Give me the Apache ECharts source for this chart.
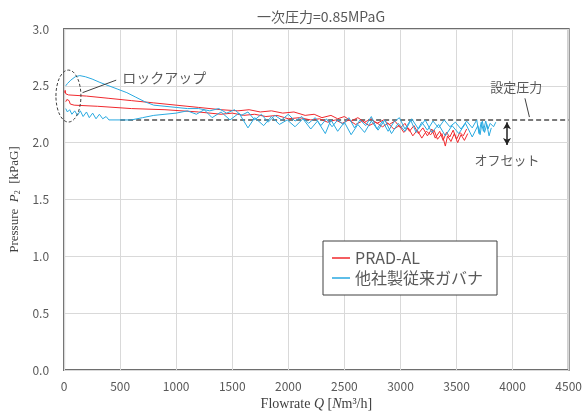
<!DOCTYPE html>
<html>
<head>
<meta charset="utf-8">
<script src="https://cdn.jsdelivr.net/npm/echarts@6/dist/echarts.min.js"></script>
<style>
  html, body { margin: 0; padding: 0; background: #fff; }
  #chart { width: 585px; height: 416px; }
</style>
</head>
<body>
<div id="chart"></div>
<script>
// Data: [flowrate Q, pressure P2]
const seriesNames = ['PRAD-AL', '他社製従来ガバナ'];
const xTicks = [0, 500, 1000, 1500, 2000, 2500, 3000, 3500, 4000, 4500];
const yTicks = [0, 0.5, 1.0, 1.5, 2.0, 2.5, 3.0];

const redUp = [
  [5, 2.44], [10, 2.46], [15, 2.43], [25, 2.44], [40, 2.42], [200, 2.41], [400, 2.39], [600, 2.37],
  [800, 2.35], [1000, 2.33], [1200, 2.31], [1400, 2.29], [1550, 2.28], [1650, 2.29], [1750, 2.27],
  [1850, 2.28], [1950, 2.26], [2050, 2.27], [2150, 2.24], [2230, 2.25], [2300, 2.22], [2380, 2.24],
  [2440, 2.21], [2500, 2.23], [2560, 2.19], [2620, 2.22], [2680, 2.18], [2740, 2.21], [2790, 2.17],
  [2850, 2.2], [2900, 2.16], [2950, 2.19], [3000, 2.13], [3040, 2.17], [3080, 2.1], [3120, 2.15],
  [3160, 2.08], [3200, 2.13], [3240, 2.06], [3280, 2.12], [3310, 2.04], [3350, 2.1], [3380, 2.02],
  [3410, 2.09], [3440, 2.05], [3470, 2.11], [3500, 2.03], [3530, 2.09], [3560, 2.06], [3590, 2.12]
];
const redDown = [
  [15, 2.36], [25, 2.38], [35, 2.39], [45, 2.37], [55, 2.34], [70, 2.35], [90, 2.33], [300, 2.32],
  [600, 2.3], [900, 2.29], [1200, 2.27], [1400, 2.25], [1500, 2.26], [1600, 2.24], [1700, 2.25],
  [1800, 2.23], [1900, 2.24], [2000, 2.21], [2100, 2.22], [2200, 2.2], [2280, 2.21], [2350, 2.18],
  [2420, 2.2], [2480, 2.17], [2540, 2.2], [2600, 2.16], [2660, 2.19], [2720, 2.15], [2780, 2.18],
  [2840, 2.14], [2890, 2.17], [2940, 2.12], [2990, 2.15], [3030, 2.09], [3070, 2.13], [3110, 2.06],
  [3150, 2.11], [3190, 2.04], [3230, 2.1], [3270, 2.07], [3300, 2.11], [3330, 2.03], [3370, 2.08],
  [3400, 1.97], [3420, 2.06], [3450, 2.01], [3480, 2.08], [3510, 2.0], [3540, 2.07], [3570, 2.02],
  [3600, 2.08]
];
const blueUp = [
  [15, 2.5], [30, 2.52], [60, 2.55], [100, 2.58], [140, 2.59], [190, 2.58], [250, 2.56], [320, 2.53],
  [400, 2.5], [480, 2.47], [560, 2.44], [640, 2.4], [720, 2.36], [800, 2.33], [900, 2.32], [1000, 2.31],
  [1100, 2.3], [1200, 2.3], [1300, 2.28], [1380, 2.3], [1450, 2.26], [1520, 2.29], [1580, 2.24],
  [1640, 2.27], [1700, 2.2], [1760, 2.25], [1820, 2.18], [1880, 2.24], [1940, 2.2], [2000, 2.25],
  [2060, 2.19], [2120, 2.23], [2180, 2.17], [2240, 2.22], [2290, 2.15], [2340, 2.21], [2390, 2.14],
  [2440, 2.2], [2490, 2.16], [2540, 2.22], [2590, 2.13], [2640, 2.2], [2690, 2.15], [2740, 2.23],
  [2790, 2.12], [2840, 2.19], [2890, 2.1], [2940, 2.18], [2990, 2.22], [3040, 2.12], [3090, 2.2],
  [3140, 2.09], [3190, 2.18], [3240, 2.11], [3290, 2.19], [3340, 2.13], [3390, 2.2], [3440, 2.14],
  [3490, 2.18], [3540, 2.12], [3590, 2.19], [3640, 2.13], [3680, 2.2], [3700, 2.08], [3720, 2.18],
  [3740, 2.1], [3760, 2.19], [3780, 2.12], [3800, 2.17], [3830, 2.14], [3850, 2.18]
];
const blueDown = [
  [15, 2.3], [30, 2.27], [50, 2.29], [70, 2.25], [95, 2.28], [120, 2.24], [145, 2.28], [170, 2.23],
  [200, 2.27], [225, 2.22], [255, 2.26], [285, 2.21], [315, 2.25], [345, 2.21], [375, 2.23], [400, 2.2],
  [500, 2.2], [600, 2.2], [700, 2.22], [800, 2.24], [900, 2.25], [1000, 2.26], [1100, 2.28], [1180, 2.25],
  [1250, 2.29], [1320, 2.22], [1400, 2.27], [1480, 2.2], [1560, 2.26], [1640, 2.13], [1700, 2.22],
  [1780, 2.15], [1850, 2.23], [1920, 2.16], [1990, 2.2], [2060, 2.14], [2130, 2.21], [2200, 2.12],
  [2260, 2.19], [2330, 2.08], [2380, 2.2], [2440, 2.1], [2500, 2.18], [2560, 2.07], [2620, 2.16],
  [2680, 2.09], [2740, 2.19], [2800, 2.11], [2860, 2.2], [2920, 2.08], [2980, 2.17], [3040, 2.1],
  [3100, 2.21], [3160, 2.12], [3220, 2.2], [3280, 2.09], [3340, 2.16], [3400, 2.06], [3460, 2.15],
  [3520, 2.08], [3580, 2.17], [3640, 2.05], [3690, 2.15], [3710, 2.07], [3730, 2.19], [3750, 2.09],
  [3770, 2.16], [3790, 2.06], [3810, 2.13]
];
// set pressure (dashed) and offset arrow
const setPressure = [[500, 2.2], [4500, 2.2]];
const offsetArrow = [[3950, 2.18], [3950, 1.98]];

const RED = '#f0282d';
const BLUE = '#29a9e0';
const TXT = '#595959';
const SANS = '"Noto Sans CJK JP", "Noto Sans", sans-serif';
const SERIF = '"Liberation Serif", "DejaVu Serif", serif';

const chart = echarts.init(document.getElementById('chart'), null, { renderer: 'canvas' });

function lineSeries(name, data, color) {
  return {
    name: name,
    type: 'line',
    data: data,
    symbol: 'none',
    smooth: false,
    lineStyle: { color: color, width: 1 },
    itemStyle: { color: color },
    z: 3
  };
}

chart.setOption({
  animation: false,
  title: {
    text: '一次圧力=0.85MPaG',
    left: 316,
    top: 5,
    textAlign: 'center',
    textStyle: { color: TXT, fontSize: 14, fontWeight: 'normal', fontFamily: SANS }
  },
  grid: {
    left: 59, right: 12, top: 29, bottom: 45,
    show: true, borderColor: '#6e6e6e', borderWidth: 2, backgroundColor: 'transparent'
  },
  legend: {
    data: seriesNames,
    orient: 'vertical',
    left: 323,
    top: 241,
    padding: [7, 14, 7, 9],
    itemGap: 0,
    icon: 'rect',
    itemWidth: 18,
    itemHeight: 1.5,
    itemTextGap: 10,
    backgroundColor: '#fff',
    borderColor: '#404040',
    borderWidth: 1,
    textStyle: { color: TXT, fontSize: 16, fontFamily: SANS, lineHeight: 20 }
  },
  xAxis: {
    type: 'value',
    min: xTicks[0],
    max: xTicks[xTicks.length - 1],
    interval: 500,
    axisLine: { show: false },
    axisTick: { show: false },
    axisLabel: { color: TXT, fontSize: 12, fontFamily: SANS, margin: 10, formatter: v => String(v) },
    splitLine: { show: true, lineStyle: { color: '#d9d9d9', width: 1 } },
    name: '{n|Flowrate }{i|Q}{n| [}{i|N}{n|m³/h]}',
    nameLocation: 'middle',
    nameGap: 27,
    nameTextStyle: {
      color: '#404040', fontFamily: SERIF, fontSize: 14,
      rich: {
        n: { fontFamily: SERIF, fontSize: 14, color: '#404040' },
        i: { fontFamily: SERIF, fontSize: 14, color: '#404040', fontStyle: 'italic' }
      }
    }
  },
  yAxis: {
    type: 'value',
    min: yTicks[0],
    max: yTicks[yTicks.length - 1],
    interval: 0.5,
    axisLine: { show: false },
    axisTick: { show: false },
    axisLabel: {
      color: TXT, fontSize: 12, fontFamily: SANS, margin: 15,
      formatter: v => v.toFixed(1)
    },
    splitLine: { show: true, lineStyle: { color: '#d9d9d9', width: 1 } },
    name: '{n|Pressure  }{i|P}{s|2}{n|  [kPaG]}',
    nameLocation: 'middle',
    nameGap: 34,
    nameRotate: 90,
    nameTextStyle: {
      color: '#404040', fontFamily: SERIF, fontSize: 13,
      rich: {
        n: { fontFamily: SERIF, fontSize: 13, color: '#404040' },
        i: { fontFamily: SERIF, fontSize: 13, color: '#404040', fontStyle: 'italic' },
        s: { fontFamily: SERIF, fontSize: 8, color: '#404040', verticalAlign: 'bottom', padding: [6, 0, 0, 0] }
      }
    }
  },
  series: [
    lineSeries(seriesNames[0], redUp, RED),
    lineSeries(seriesNames[0], redDown, RED),
    lineSeries(seriesNames[1], blueUp, BLUE),
    lineSeries(seriesNames[1], blueDown, BLUE),
    {
      name: 'setPressure',
      type: 'line',
      data: setPressure,
      symbol: 'none',
      lineStyle: { color: '#7a7a7a', width: 2, type: [5, 3] },
      z: 2,
      markLine: {
        silent: true,
        symbol: ['arrow', 'arrow'],
        symbolSize: [6, 7],
        label: { show: false },
        lineStyle: { color: '#222', width: 1.5, type: 'solid' },
        data: [[{ coord: offsetArrow[0] }, { coord: offsetArrow[1] }]]
      }
    }
  ]
});

// annotation callouts placed relative to the axes
const px = (q, p) => chart.convertToPixel({ gridIndex: 0 }, [q, p]);
const ell = px(39, 2.41);
const lockText = px(518, 2.575);
const lockA = px(165, 2.44);
const lockB = px(465, 2.55);
const setText = px(4032, 2.485);
const setA = px(4110, 2.39);
const setB = px(4150, 2.225);
const offText = px(3950, 1.85);

chart.setOption({
  graphic: [
    {
      type: 'ellipse',
      shape: { cx: ell[0], cy: ell[1], rx: 12.5, ry: 26 },
      style: { fill: 'none', stroke: '#404040', lineWidth: 1, lineDash: [3, 2] },
      z: 10
    },
    {
      type: 'line',
      shape: { x1: lockA[0], y1: lockA[1], x2: lockB[0], y2: lockB[1] },
      style: { stroke: '#404040', lineWidth: 1 },
      z: 10
    },
    {
      type: 'text',
      x: lockText[0], y: lockText[1],
      style: { text: 'ロックアップ', fill: TXT, font: '14px ' + SANS, textAlign: 'left', textVerticalAlign: 'middle' },
      z: 10
    },
    {
      type: 'text',
      x: setText[0], y: setText[1],
      style: { text: '設定圧力', fill: TXT, font: '13px ' + SANS, textAlign: 'center', textVerticalAlign: 'middle' },
      z: 10
    },
    {
      type: 'line',
      shape: { x1: setA[0], y1: setA[1], x2: setB[0], y2: setB[1] },
      style: { stroke: '#404040', lineWidth: 1 },
      z: 10
    },
    {
      type: 'text',
      x: offText[0], y: offText[1],
      style: { text: 'オフセット', fill: TXT, font: '13px ' + SANS, textAlign: 'center', textVerticalAlign: 'middle' },
      z: 10
    }
  ]
});
</script>
</body>
</html>
